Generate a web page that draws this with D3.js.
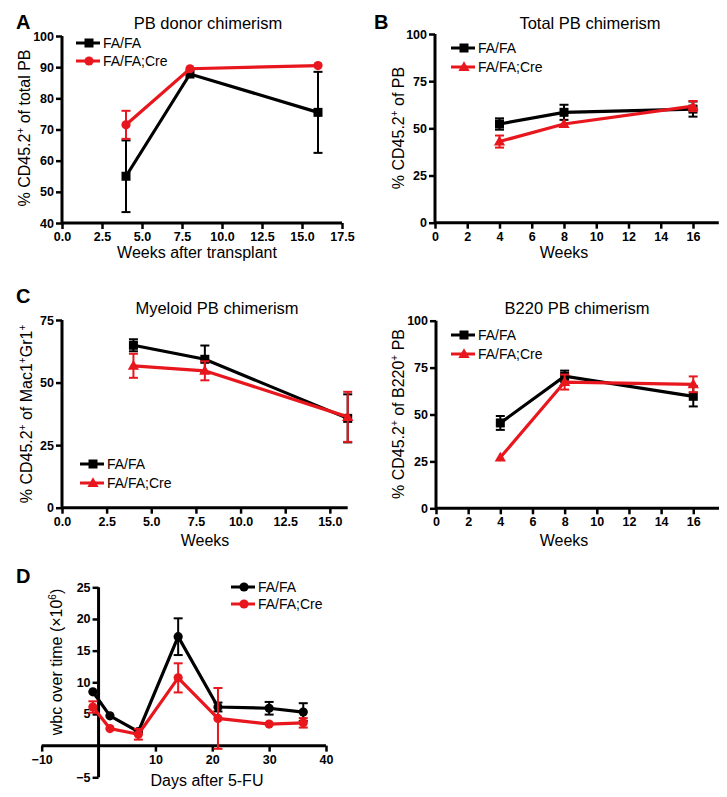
<!DOCTYPE html>
<html><head><meta charset="utf-8">
<script src="https://cdn.jsdelivr.net/npm/d3@7"></script>
<style>
body{margin:0;background:#fff;}
svg{font-family:"Liberation Sans",Arial,Helvetica,sans-serif;}
.tick text{font-weight:bold;font-size:12.5px;fill:#000;}
</style></head><body>
<svg id="c" width="727" height="797"></svg>
<script>
const BLACK="#000000", RED="#e8161d";
const seriesNames=["FA/FA","FA/FA;Cre"];

// Panel A
const aWeeks=[4,8,16];
const aFA=[55,87.8,75.5], aFAerr=[11.5,0,13];
const aCre=[71.5,89.5,90.5], aCreErr=[4.5,0,0];
const aXTicks=[0,2.5,5,7.5,10,12.5,15,17.5];
const aYTicks=[40,50,60,70,80,90,100];

// Panel B
const bWeeks=[4,8,16];
const bFA=[52.3,58.5,60.2], bFAerr=[3,4,4];
const bCre=[43,52.3,61.8], bCreErr=[3.2,0,2.7];
const bXTicks=[0,2,4,6,8,10,12,14,16];
const bYTicks=[0,25,50,75,100];

// Panel C (myeloid)
const cWeeks=[4,8,16];
const cFA=[64.9,59.3,35.7], cFAerr=[2.4,5.5,9.6];
const cCre=[56.7,54.7,36.3], cCreErr=[4.8,3.8,10];
const cXTicks=[0,2.5,5,7.5,10,12.5,15];
const cYTicks=[0,25,50,75];

// Panel C (B220)
const dWeeks=[4,8,16];
const dFA=[45.5,70.4,59.7], dFAerr=[3.7,3,5.4];
const dCre=[27.1,67.3,66.1], dCreErr=[0,4,4.2];
const dXTicks=[0,2,4,6,8,10,12,14,16];
const dYTicks=[0,25,50,75,100];

// Panel D (wbc)
const eDays=[-1,2,7,14,21,30,36];
const eFA=[8.5,4.7,2.2,17.2,6.1,5.9,5.3], eFAerr=[0,0,0,2.9,0.7,1.0,1.4];
const eCre=[6.1,2.7,1.8,10.7,4.3,3.4,3.6], eCreErr=[0.9,0,0.85,2.3,4.8,0,0.75];
const eXTicks=[-10,10,20,30,40];
const eYTicks=[-5,5,10,15,20,25];

const svg=d3.select("#c");

function marker(g,type,x,y,color){
  if(type==="square"){
    g.append("rect").attr("x",x-4.5).attr("y",y-4.5).attr("width",9).attr("height",9).attr("fill",color);
  } else if(type==="circle"){
    g.append("circle").attr("cx",x).attr("cy",y).attr("r",4.6).attr("fill",color);
  } else {
    const s=d3.symbol().type(d3.symbolTriangle).size(55);
    g.append("path").attr("d",s()).attr("transform",`translate(${x},${y+0.8})`).attr("fill",color);
  }
}

function ylabel(g,x,y,parts){
  const t=g.append("text").attr("transform",`translate(${x},${y}) rotate(-90)`)
    .attr("text-anchor","middle").attr("font-size",16).attr("fill","#000");
  let shift=0;
  parts.forEach(p=>{
    if(p.sup){
      t.append("tspan").attr("font-size",10).attr("dy",-6-shift).text(p.t);
      shift=-6;
    } else {
      t.append("tspan").attr("dy",-shift).text(p.t);
      shift=0;
    }
  });
}

function panel(o){
  const g=svg.append("g");
  const x=d3.scaleLinear().domain(o.xd).range(o.xr);
  const y=d3.scaleLinear().domain(o.yd).range(o.yr);
  const xAxisY = o.xAxisAt!==undefined? y(o.xAxisAt): o.yr[0];
  const yAxisX = o.yAxisAt!==undefined? x(o.yAxisAt): o.xr[0];
  const xa=g.append("g").attr("transform",`translate(0,${xAxisY})`)
    .call(d3.axisBottom(x).tickValues(o.xt).tickSize(6).tickPadding(3).tickFormat(o.xf||d3.format("d")));
  const ya=g.append("g").attr("transform",`translate(${yAxisX},0)`)
    .call(d3.axisLeft(y).tickValues(o.yt).tickSize(6).tickPadding(2).tickFormat(d3.format("d")));
  [xa,ya].forEach(a=>{
    a.select(".domain").attr("stroke","#000").attr("stroke-width",3);
    a.selectAll(".tick line").attr("stroke","#000").attr("stroke-width",2.5);
  });
  xa.select(".domain").attr("d",`M${o.xr[0]},0H${o.xr[1]}`);
  ya.select(".domain").attr("d",`M0,${o.yr[0]}V${o.yr[1]}`);
  // series
  o.series.forEach(s=>{
    const sg=g.append("g");
    const line=d3.line().x((d,i)=>x(o.xs[i])).y(d=>y(d));
    sg.append("path").datum(s.v).attr("d",line).attr("fill","none")
      .attr("stroke",s.c).attr("stroke-width",3.2).attr("stroke-linejoin","miter");
    s.v.forEach((v,i)=>{
      const e=s.e[i];
      if(e>0){
        const cx=x(o.xs[i]);
        sg.append("line").attr("x1",cx).attr("x2",cx).attr("y1",y(v-e)).attr("y2",y(v+e))
          .attr("stroke",s.c).attr("stroke-width",2);
        [v-e,v+e].forEach(w=>sg.append("line").attr("x1",cx-4.5).attr("x2",cx+4.5)
          .attr("y1",y(w)).attr("y2",y(w)).attr("stroke",s.c).attr("stroke-width",2));
      }
      marker(sg,s.m,x(o.xs[i]),y(v),s.c);
    });
  });
  if(o.title) g.append("text").attr("x",o.title[1]).attr("y",o.title[2]).attr("text-anchor","middle")
    .attr("font-size",16.5).attr("fill","#000").text(o.title[0]);
  if(o.xlab) g.append("text").attr("x",o.xlab[1]).attr("y",o.xlab[2]).attr("text-anchor","middle")
    .attr("font-size",16).attr("fill","#000").text(o.xlab[0]);
  ylabel(g,o.ylab[0],o.ylab[1],o.ylab[2]);
  if(o.letter) g.append("text").attr("x",o.letter[1]).attr("y",o.letter[2]).attr("font-size",20)
    .attr("font-weight","bold").attr("fill","#000").text(o.letter[0]);
  o.series.forEach((s,i)=>{
    const ly=o.leg[1]+i*o.leg[2];
    g.append("line").attr("x1",o.leg[0]).attr("x2",o.leg[0]+24).attr("y1",ly).attr("y2",ly)
      .attr("stroke",s.c).attr("stroke-width",3);
    marker(g,s.m,o.leg[0]+13,ly,s.c);
    g.append("text").attr("x",o.leg[0]+27).attr("y",ly+5).attr("font-size",14).attr("fill","#000").text(seriesNames[i]);
  });
}

const CD=[{t:"% CD45.2"},{t:"+",sup:true}];

panel({xd:[0,17.5],xr:[62,342],yd:[40,100],yr:[223,36],xt:aXTicks,yt:aYTicks,xf:d3.format(".1f"),
  xs:aWeeks,
  series:[{v:aFA,e:aFAerr,c:BLACK,m:"square"},{v:aCre,e:aCreErr,c:RED,m:"circle"}],
  title:["PB donor chimerism",208,29],xlab:["Weeks after transplant",197,258],
  ylab:[30,128,CD.concat([{t:" of total PB"}])],letter:["A",16,29],leg:[76,43,18]});

panel({xd:[0,17.6],xr:[435,718.8],yd:[0,100],yr:[222.7,34],xt:bXTicks,yt:bYTicks,
  xs:bWeeks,
  series:[{v:bFA,e:bFAerr,c:BLACK,m:"square"},{v:bCre,e:bCreErr,c:RED,m:"triangle"}],
  title:["Total PB chimerism",590,29],xlab:["Weeks",564,258],
  ylab:[404,128,CD.concat([{t:" of PB"}])],letter:["B",374,29],leg:[451,48,19]});

panel({xd:[0,16],xr:[62,347.7],yd:[0,75],yr:[507.7,320],xt:cXTicks,yt:cYTicks,xf:d3.format(".1f"),
  xs:cWeeks,
  series:[{v:cFA,e:cFAerr,c:BLACK,m:"square"},{v:cCre,e:cCreErr,c:RED,m:"triangle"}],
  title:["Myeloid PB chimerism",217,314],xlab:["Weeks",205,546],
  ylab:[32,414,CD.concat([{t:" of Mac1"},{t:"+",sup:true},{t:"Gr1"},{t:"+",sup:true}])],
  letter:["C",16,303],leg:[80,464,19]});

panel({xd:[0,17.6],xr:[436,719],yd:[0,100],yr:[508.3,320.7],xt:dXTicks,yt:dYTicks,
  xs:dWeeks,
  series:[{v:dFA,e:dFAerr,c:BLACK,m:"square"},{v:dCre,e:dCreErr,c:RED,m:"triangle"}],
  title:["B220 PB chimerism",577,314],xlab:["Weeks",564,546],
  ylab:[404,414,CD.concat([{t:" of B220"},{t:"+",sup:true},{t:" PB"}])],leg:[451,335,19]});

panel({xd:[-10,40],xr:[41.7,326],yd:[-5,25],yr:[777.3,587.3],xt:eXTicks,yt:eYTicks,
  xAxisAt:0,yAxisAt:0,
  xs:eDays,
  series:[{v:eFA,e:eFAerr,c:BLACK,m:"circle"},{v:eCre,e:eCreErr,c:RED,m:"circle"}],
  xlab:["Days after 5-FU",207,786],
  ylab:[62,662,[{t:"wbc over time (\u00d710"},{t:"6",sup:true},{t:")"}]],
  letter:["D",16,583],leg:[231,587,17]});
</script></body></html>
